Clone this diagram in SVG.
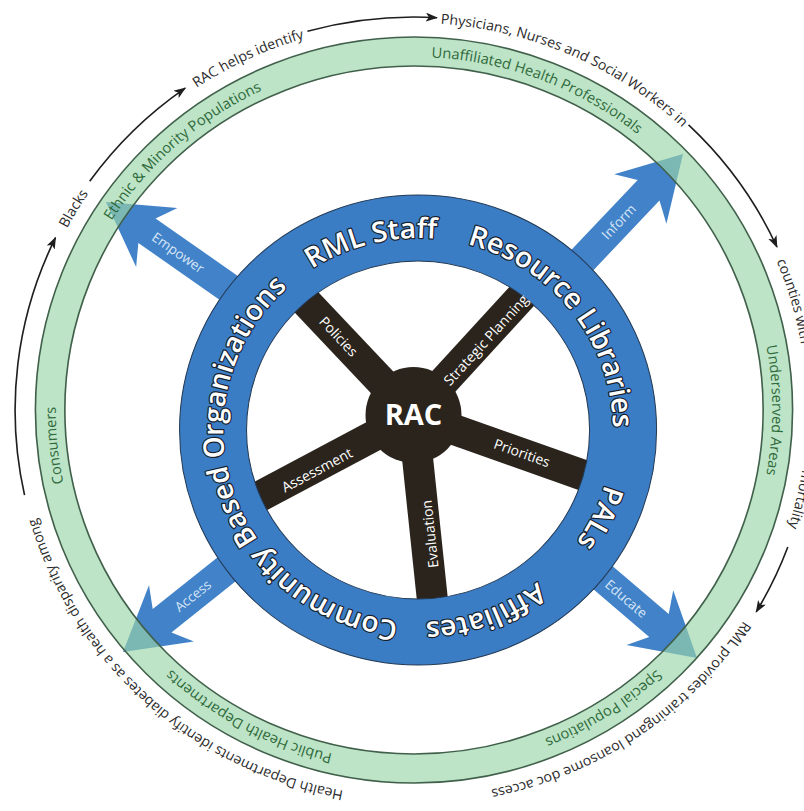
<svg xmlns="http://www.w3.org/2000/svg" xmlns:xlink="http://www.w3.org/1999/xlink" width="804" height="811" viewBox="0 0 804 811">
<defs>
<style>
.ot{font-family:"Open Sans","Liberation Sans",sans-serif;font-size:14px;fill:#2b2b2b}
.gt{font-family:"Open Sans","Liberation Sans",sans-serif;font-size:14.5px;fill:#2f6a3c}
.bt{font-family:"Open Sans","Liberation Sans",sans-serif;font-size:28px;font-weight:600;fill:#fff;stroke:#18202c;stroke-width:2.4;paint-order:stroke;stroke-linejoin:round}
.sl{font-family:"Open Sans","Liberation Sans",sans-serif;font-size:14px;fill:#fff;text-anchor:middle}
.al{font-family:"Open Sans","Liberation Sans",sans-serif;font-size:13.5px;fill:#d6e6f7;text-anchor:middle}
.arc{fill:none;stroke:#1e1e1e;stroke-width:1.6}
.spoke{stroke:#2a241c;stroke-width:31}
.arrow{fill:#4282c8}
.edge{fill:none;stroke:#41604b;stroke-width:1.6}
</style>
<marker id="ah" viewBox="0 0 12 9" refX="11" refY="4.5" markerWidth="12" markerHeight="9" markerUnits="userSpaceOnUse" orient="auto">
<path d="M0,0 L12,4.5 L0,9 L3,4.5 Z" fill="#1e1e1e"/>
</marker>
<path id="arrowShape" d="M-190,-15 L-50,-15 L-62,-36 L0,0 L-62,36 L-50,15 L-190,15 Z"/>
<path id="cOut" d="M0,387 A387,387 0 1 1 0,-387 A387,387 0 1 1 0,387"/>
<path id="cGreen" d="M0,353 A353,353 0 1 1 0,-353 A353,353 0 1 1 0,353"/>
<path id="cBlue" d="M4,212 A192,192 0 1 1 4,-172 A192,192 0 1 1 4,212"/>
</defs>
<rect width="804" height="811" fill="#fff"/>

<g id="arrows">
<use xlink:href="#arrowShape" class="arrow" transform="translate(683,154) rotate(-46.5)"/>
<use xlink:href="#arrowShape" class="arrow" transform="translate(106,202) rotate(215)"/>
<use xlink:href="#arrowShape" class="arrow" transform="translate(123,652) rotate(141.4)"/>
<use xlink:href="#arrowShape" class="arrow" transform="translate(697,658) rotate(40.5)"/>
</g>

<g id="rings" transform="translate(414,410) scale(1.015,1)">
<g id="green-ring">
<circle r="358.5" fill="none" stroke="#99d5a7" stroke-opacity="0.65" stroke-width="29"/>
<circle r="373" class="edge"/>
<circle r="344" class="edge"/>
</g>
</g>

<g id="spokes">
<line class="spoke" x1="413" y1="415" x2="272.1" y2="266"/>
<line class="spoke" x1="413" y1="415" x2="551.5" y2="263.9"/>
<line class="spoke" x1="413" y1="415" x2="606.2" y2="483.4"/>
<line class="spoke" x1="413" y1="415" x2="434.4" y2="618.9"/>
<line class="spoke" x1="413" y1="415" x2="232" y2="511.2"/>
</g>

<g transform="translate(414,410) scale(1.015,1)">
<g id="blue-ring">
<circle cx="4" cy="20" r="202" fill="none" stroke="#3b7dc5" stroke-width="66"/>
<circle cx="4" cy="20" r="235" fill="none" stroke="#233a55" stroke-width="1"/>
<circle cx="4" cy="20" r="169" fill="none" stroke="#233a55" stroke-width="1"/>
</g>

<g id="connectors">
<path class="arc" marker-end="url(#ah)" d="M-383.7,85.1 A393,393 0 0 1 -353.2,-172.3"/>
<path class="arc" marker-end="url(#ah)" d="M-319.5,-228.8 A393,393 0 0 1 -225.4,-321.9"/>
<path class="arc" marker-end="url(#ah)" d="M-105,-378.7 A393,393 0 0 1 22.6,-392.3"/>
<path class="arc" marker-end="url(#ah)" d="M270.5,-285.1 A393,393 0 0 1 357.6,-163"/>
<path class="arc" marker-end="url(#ah)" d="M368.3,137 A393,393 0 0 1 337.2,201.8"/>
</g>

<g id="outer-labels">
<text class="ot" text-anchor="middle"><textPath xlink:href="#cOut" startOffset="817">Blacks</textPath></text>
<text class="ot" text-anchor="middle"><textPath xlink:href="#cOut" startOffset="1047">RAC helps identify</textPath></text>
<text class="ot" text-anchor="middle"><textPath xlink:href="#cOut" startOffset="1374">Physicians, Nurses and Social Workers in</textPath></text>
<text class="ot" text-anchor="start"><textPath xlink:href="#cOut" startOffset="1670">counties with</textPath></text>
<text class="ot" text-anchor="end"><textPath xlink:href="#cOut" startOffset="1942">mortality</textPath></text>
<text class="ot" text-anchor="middle"><textPath xlink:href="#cOut" startOffset="2200">RML provides trainingand loansome doc access</textPath></text>
<text class="ot" text-anchor="middle"><textPath xlink:href="#cOut" startOffset="284">Health Departments identify diabetes as a health disparity among</textPath></text>
</g>

<g id="green-labels">
<text class="gt" text-anchor="middle"><textPath xlink:href="#cGreen" startOffset="854">Ethnic &amp; Minority Populations</textPath></text>
<text class="gt" text-anchor="middle"><textPath xlink:href="#cGreen" startOffset="1236">Unaffiliated Health Professionals</textPath></text>
<text class="gt" text-anchor="middle"><textPath xlink:href="#cGreen" startOffset="1663">Underserved Areas</textPath></text>
<text class="gt" text-anchor="middle"><textPath xlink:href="#cGreen" startOffset="2020">Special Populations</textPath></text>
<text class="gt" text-anchor="middle"><textPath xlink:href="#cGreen" startOffset="172">Public Health Departments</textPath></text>
<text class="gt" text-anchor="middle"><textPath xlink:href="#cGreen" startOffset="519">Consumers</textPath></text>
</g>

<g id="blue-labels">
<text class="bt" text-anchor="middle"><textPath xlink:href="#cBlue" startOffset="557">RML Staff</textPath></text>
<text class="bt" text-anchor="middle"><textPath xlink:href="#cBlue" startOffset="777">Resource Libraries</textPath></text>
<text class="bt" text-anchor="middle"><textPath xlink:href="#cBlue" startOffset="992">PALs</textPath></text>
<text class="bt" text-anchor="middle"><textPath xlink:href="#cBlue" startOffset="1139">Affiliates</textPath></text>
<text class="bt" text-anchor="middle"><textPath xlink:href="#cBlue" startOffset="241">Community Based Organizations</textPath></text>
</g>
</g>

<g id="hub">
<circle cx="413.5" cy="415" r="48" fill="#2a241c"/>
<text x="413.5" y="425" font-family="'Open Sans','Liberation Sans',sans-serif" font-size="29" font-weight="700" fill="#fff" text-anchor="middle">RAC</text>
</g>

<g id="spoke-labels">
<text class="sl" transform="translate(338.5,336.5) rotate(46.6)" dy="5">Policies</text>
<text class="sl" transform="translate(486,340) rotate(-47.5)" dy="5">Strategic Planning</text>
<text class="sl" transform="translate(522,453) rotate(19.5)" dy="5">Priorities</text>
<text class="sl" transform="translate(430,534) rotate(-96)" dy="5">Evaluation</text>
<text class="sl" transform="translate(317,470) rotate(-28)" dy="5">Assessment</text>
</g>

<g id="arrow-labels">
<text class="al" transform="translate(619,222) rotate(-46.5)" dy="4.5">Inform</text>
<text class="al" transform="translate(178,253) rotate(35)" dy="4.5">Empower</text>
<text class="al" transform="translate(193,596) rotate(-38.6)" dy="4.5">Access</text>
<text class="al" transform="translate(626,599) rotate(40.5)" dy="4.5">Educate</text>
</g>
</svg>
